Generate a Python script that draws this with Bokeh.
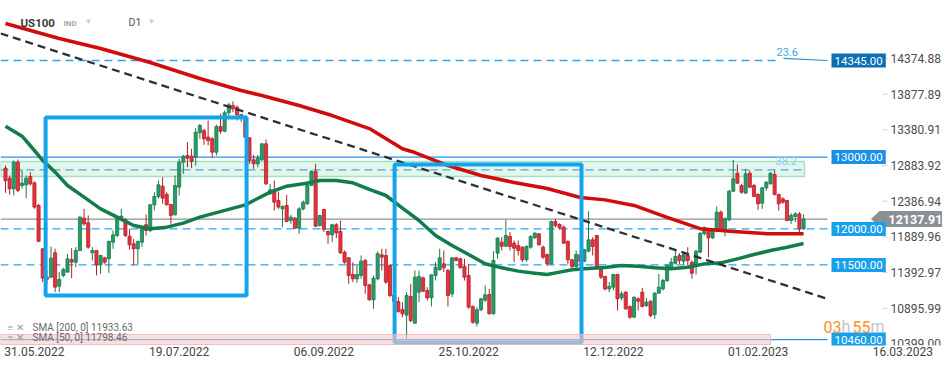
import pandas as pd
from bokeh.plotting import figure
from bokeh.models import Range1d, FixedTicker, Label, ColumnDataSource
from bokeh.core.properties import value
from bokeh.embed import file_html
from bokeh.resources import INLINE

# ---------------- data ----------------
start_date = "2022-05-31"
opens = [12846,12707,12559,12930,12605,12614,12730,12642,12327,11724,
         11330,11329,11668,11204,11352,11399,11575,11538,11700,12150,
         12085,11668,11700,11501,11598,11585,11816,11909,12141,12132,
         11900,11793,11724,11816,12058,11979,12336,12452,12596,12480,
         12341,12197,12582,12930,13022,13013,12999,13340,13370,13278,
         13255,13069,13426,13361,13617,13719,13695,13566,13556,13269,
         12962,12907,12962,13185,12489,12522,12396,12280,12327,12118,
         12150,12011,12280,12350,12605,12800,12048,12271,11965,11918,
         12058,11965,11677,11598,11366,11306,11352,11561,11222,11014,
         11306,11640,11630,11492,11080,10990,10879,10800,11060,10689,
         11120,11320,11144,11041,11352,11431,11515,11422,11097,11598,
         11584,11478,11352,10921,10689,10875,11009,11088,10819,11663,
         11816,11760,11895,11802,11770,11747,11570,11747,11877,11932,
         11747,11645,11515,12104,12062,12025,11826,11570,11478,11640,
         11552,11691,11849,11909,11459,11338,11166,11190,11366,11041,
         11120,10920,10772,11027,11120,10934,10995,10809,11106,11166,
         11282,11468,11524,11630,11552,11630,11538,11491,11677,11932,
         11978,11876,11978,12234,11988,12127,12526,12776,12605,12499,
         12776,12605,12480,12359,12572,12628,12758,12480,12419,12396,
         12118,12173,12210,12002]
highs = [12884,12744,12953,12967,12828,12744,12791,12661,12350,11733,
         11420,11756,11724,11399,11459,11654,11733,11747,12178,12280,
         12188,11747,11700,11640,11612,11840,11979,12178,12280,12150,
         12002,11863,11840,12025,12201,12350,12512,12675,12721,12512,
         12350,12744,12976,13032,13208,13115,13403,13463,13394,13510,
         13278,13450,13603,13649,13756,13774,13719,13603,13580,13278,
         13032,13032,13194,13245,12628,12675,12522,12327,12475,12197,
         12164,12304,12396,12642,12814,12907,12197,12280,11979,12072,
         12081,12118,11700,11607,11538,11492,11631,11584,11236,11352,
         11686,11724,11724,11515,11150,11051,10981,11120,11237,11422,
         11422,11338,11190,11366,11538,11724,11700,11445,11607,11607,
         11600,11584,11515,10935,10912,11041,11213,11167,11691,11886,
         11886,12127,11956,11840,11840,11756,11770,11910,11955,11942,
         11770,11655,12118,12141,12080,12048,11840,11584,11700,11700,
         11724,12248,11886,11918,11478,11350,11260,11375,11375,11134,
         11134,10934,11060,11050,11180,11041,11004,11120,11375,11305,
         11514,11598,11700,11663,11663,11746,11561,11709,11955,12034,
         12002,12002,12313,12257,12164,12544,12962,12897,12628,12837,
         12814,12628,12498,12582,12665,12790,12814,12489,12442,12405,
         12220,12234,12234,12201]
lows = [12503,12475,12466,12512,12559,12429,12605,12280,11816,11260,
        11230,11315,11120,11120,11329,11399,11315,11468,11691,12048,
        11724,11561,11352,11376,11515,11390,11724,11886,12118,11886,
        11714,11492,11515,11747,11909,11955,12257,12420,12350,12327,
        12072,12188,12466,12767,12860,12846,12883,13255,13171,13162,
        12990,13023,13324,13347,13570,13626,13510,13487,13255,12907,
        12837,12860,12948,12614,12475,12257,12280,12025,12095,12072,
        12002,11932,12257,12336,12596,12025,12034,11955,11793,11816,
        11872,11654,11515,11236,11260,11250,11306,11097,11004,10888,
        11283,11422,11236,11051,10950,10833,10772,10465,10703,10680,
        10981,11120,11004,10921,11283,11422,11399,10921,11051,11550,
        11450,11283,10889,10680,10643,10856,10981,10809,10809,11584,
        11700,11747,11700,11538,11631,11538,11545,11724,11860,11770,
        11584,11490,11506,12020,11990,11793,11515,11431,11460,11500,
        11538,11677,11631,11459,11306,11143,11120,11143,10865,11004,
        10874,10749,10763,10865,10911,10911,10772,10749,11097,11143,
        11259,11445,11505,11514,11505,11491,11306,11366,11663,11909,
        11607,11862,11955,11969,11895,12108,12512,12628,12489,12489,
        12572,12442,12266,12280,12535,12619,12466,12257,12350,12108,
        12071,12095,11955,11988]
closes = [12670,12559,12930,12535,12638,12707,12628,12304,11830,11315,
          11300,11594,11190,11297,11436,11585,11538,11700,12164,12071,
          11747,11700,11501,11631,11538,11826,11918,12141,12178,11909,
          11779,11724,11826,12011,11979,12336,12452,12614,12429,12336,
          12188,12605,12930,13013,12985,12939,13347,13440,13255,13232,
          13069,13426,13361,13617,13728,13672,13589,13593,13278,12953,
          12907,12986,13185,12628,12545,12373,12304,12313,12104,12164,
          12011,12280,12373,12614,12800,12039,12188,11993,11918,12058,
          11946,11668,11538,11352,11306,11366,11552,11213,11014,11315,
          11654,11607,11260,11074,10990,10851,10819,11074,10726,11329,
          11340,11134,11041,11361,11468,11598,11459,11074,11598,11561,
          11459,11329,10912,10703,10875,11028,11083,10819,11561,11872,
          11760,11909,11756,11733,11700,11570,11756,11895,11942,11779,
          11607,11515,12104,12048,12016,11802,11570,11478,11645,11550,
          11710,11849,11756,11468,11329,11166,11199,11366,11027,11097,
          10888,10772,11050,10995,10920,10981,10795,11106,11190,11282,
          11491,11538,11616,11561,11644,11561,11384,11691,11941,12016,
          11876,11988,12234,11978,12141,12526,12698,12637,12512,12767,
          12582,12452,12350,12572,12651,12776,12480,12350,12373,12118,
          12187,12210,12002,12137.91]

sma200_bar = [0, 13, 23, 35, 47, 57, 62, 71, 79, 88, 96, 99, 107, 115, 123, 131, 139, 145, 152, 160, 168, 176, 184, 193]
sma200_val = [14860, 14651, 14512, 14317, 14094, 13927, 13858, 13718, 13579, 13398, 13116, 13064, 12883,
              12744, 12647, 12563, 12438, 12405, 12327, 12162, 12004, 11965, 11935, 11933.63]
sma50_bar = [0, 4, 7, 9, 12, 15, 19, 23, 27, 31, 35, 39, 43, 47, 58, 64, 68, 72, 76, 80, 84, 88, 92, 96, 100,
             104, 108, 112, 116, 120, 124, 128, 131, 134, 137, 140, 145, 149, 153, 157, 161, 165, 169, 173,
             177, 181, 185, 189, 193]
sma50_val = [13431, 13292, 13092, 12953, 12791, 12605, 12443, 12280, 12164, 12048, 12002, 12025, 12081, 12164,
             12336, 12512, 12596, 12628, 12675, 12675, 12642, 12550, 12466, 12290, 12118, 11909, 11770, 11645,
             11515, 11459, 11413, 11385, 11366, 11399, 11431, 11445, 11465, 11491, 11482, 11459, 11445, 11468,
             11514, 11528, 11584, 11644, 11700, 11746, 11798.46]

date_labels = ["31.05.2022", "19.07.2022", "06.09.2022", "25.10.2022", "12.12.2022", "01.02.2023", "16.03.2023"]
date_step = 35       # bars between time-axis labels
price_ticks = [14374.88, 13877.89, 13380.91, 12883.92, 12386.94, 11889.96, 11392.97, 10895.99, 10399.00]

levels_solid = [13000.0, 10460.0]
levels_dashed = [14345.0, 12000.0, 11500.0]
tag_levels = [14345.0, 13000.0, 12000.0, 11500.0, 10460.0]
fib_236 = 14345.0
fib_382 = 12823.0
last_price = 12137.91
zone_green = (12730.0, 12939.0)      # price band
zone_pink = (10392.0, 10531.0)
trend_pts = ([-1.2, 199.3], [14721.0, 11018.0])          # (bar, price) of the drawn trend line
box1 = (9.7, 58.3, 11074.0, 13552.0)                     # left bar, right bar, bottom, top
box2 = (94.1, 139.3, 10420.0, 12897.0)
sma200_last = 11933.63
sma50_last = 11798.46

# ---------------- layout helpers ----------------
K = 4.135            # px per bar
X0 = -5 / K
FW, FH = 945, 345
YPX = 13.92          # price per px
YMAX = 15180.2
YMIN = YMAX - FH * YPX
XEND = X0 + FW / K

def px2x(px):  # picture px -> bar coordinate
    return X0 + px / K

def py2y(py):  # picture px -> price
    return YMAX - py * YPX

FONT = "Roboto"

dates = pd.bdate_range(start_date, periods=len(opens))
idx = list(range(len(opens)))

p = figure(frame_width=FW, frame_height=FH, x_range=Range1d(X0, XEND), y_range=Range1d(YMIN, YMAX),
           y_axis_location=None, output_backend="svg", toolbar_location=None,
           min_border_left=0, min_border_top=0, min_border_right=0, min_border_bottom=0,
           background_fill_color="white", border_fill_color="white")
p.outline_line_color = None
p.grid.visible = False

# zones
p.quad(left=X0, right=193.2, bottom=zone_green[0], top=zone_green[1],
       fill_color="#e2f6ec", line_color="#a3e0c4", line_width=1.5)

# levels
line_end = px2x(827)
for lv in levels_solid:
    p.segment(x0=X0, y0=lv, x1=line_end, y1=lv, line_color="#2196f3", line_width=1.3)
for lv in levels_dashed:
    p.segment(x0=X0, y0=lv, x1=line_end if lv != fib_236 else px2x(780), y1=lv,
              line_color="#2aa5ee", line_width=1.3, line_dash="8 5")
p.segment(x0=px2x(783), y0=fib_236 + 30, x1=line_end, y1=fib_236, line_color="#2a8fd6", line_width=1.2)
p.segment(x0=X0, y0=fib_382, x1=193.2, y1=fib_382, line_color="#47a9e6", line_width=1.2, line_dash="8 5")
p.segment(x0=X0, y0=last_price, x1=line_end, y1=last_price, line_color="#8d9396", line_width=1.2)

# candles
src = ColumnDataSource(dict(
    x=idx, date=[d.strftime("%d.%m.%Y") for d in dates], o=opens, h=highs, l=lows, c=closes,
    top=[max(a, b) for a, b in zip(opens, closes)],
    bot=[min(a, b) for a, b in zip(opens, closes)],
    fill=["#2a9a68" if c >= o else "#e0353f" for o, c in zip(opens, closes)],
    edge=["#177a4c" if c >= o else "#b71c26" for o, c in zip(opens, closes)],
))
p.segment(x0="x", y0="h", x1="x", y1="l", line_color="edge", line_width=1, source=src)
p.vbar(x="x", width=0.75, top="top", bottom="bot", fill_color="fill", line_color="edge", line_width=0.8, source=src)

# moving averages and trend line
p.line(sma50_bar, sma50_val, line_color="#127c4a", line_width=3.5, line_join="round")
p.line(sma200_bar, sma200_val, line_color="#d20b0b", line_width=3.5, line_join="round")
p.line(trend_pts[0], trend_pts[1], line_color="#2c3136", line_width=2.3, line_dash="8 5")

# boxes
for b in (box1, box2):
    p.quad(left=b[0], right=b[1], bottom=b[2], top=b[3], fill_color=None, line_color="#14a4ec", line_width=4)

# pink band
p.quad(left=X0, right=185, bottom=zone_pink[0], top=zone_pink[1],
       fill_color="#f7c9c9", fill_alpha=0.6, line_color="#f2b0b0", line_alpha=0.8, line_width=1)

# price scale (drawn at the right inside the frame)
p.segment(x0=[px2x(882)] * len(price_ticks), y0=price_ticks, x1=[px2x(887)] * len(price_ticks), y1=price_ticks,
          line_color="#cfcfcf", line_width=1)
p.text(x=[px2x(890)] * len(price_ticks), y=price_ticks, text=["%.2f" % t for t in price_ticks],
       text_font=value(FONT), text_font_size="12px", text_color="#4d4d4d",
       text_align="left", text_baseline="middle")

# time axis (labels left-aligned on their bar: tick shifted by half a label width)
date_pos = [date_step * k + 7 for k in range(len(date_labels))]
xax = p.xaxis[0]
xax.ticker = FixedTicker(ticks=date_pos)
xax.major_label_overrides = {pos: lab for pos, lab in zip(date_pos, date_labels)}
xax.axis_line_color = None
xax.major_tick_in = 0
xax.major_tick_out = 0
xax.minor_tick_line_color = None
xax.major_label_standoff = 1
xax.major_label_text_font = FONT
xax.major_label_text_font_size = "12px"
xax.major_label_text_color = "#444444"

def lab(x, y, text, size="11px", color="#444", style="normal", align="left", **kw):
    p.add_layout(Label(x=x, y=y, text=text, text_font=FONT, text_font_size=size, text_color=color,
                       text_font_style=style, text_align=align, text_baseline="middle", **kw))

# price tags
tag_colors = ["#0b6fb3", "#1a8fe6", "#18a0ea", "#18a0ea", "#18a0ea"]
for lv, col in zip(tag_levels, tag_colors):
    lab(px2x(831), lv, "%.2f" % lv, size="11.5px", color="white", background_fill_color=col, padding=3)

# last-price tag (arrow shape)
tag_x = [px2x(871), px2x(879), px2x(941), px2x(941), px2x(879)]
tag_y = [last_price, py2y(211), py2y(211), py2y(226), py2y(226)]
p.patch(tag_x, tag_y, fill_color="#8a9195", line_color="#8a9195")
lab(px2x(888), last_price, "%.2f" % last_price, size="12.5px", color="white", style="bold")

# fib labels
lab(px2x(776), py2y(51), "23.6", size="11px", color="#3aa3e6")
lab(px2x(775), py2y(160), "38.2", size="11px", color="#8ccaf0")

# header
lab(px2x(20), py2y(22), "US100", size="11.5px", color="#3a3a3a", style="bold")
lab(px2x(63), py2y(23), "IND", size="8px", color="#a8a8a8", style="bold")
lab(px2x(84), py2y(21), "\u25BC", size="8px", color="#cccccc")
lab(px2x(128), py2y(22), "D1", size="10.5px", color="#555555")
lab(px2x(147), py2y(21), "\u25BC", size="8px", color="#cccccc")

# SMA legend
lab(px2x(7), py2y(327), "\u2261 \u2715", size="10px", color="#9a9a9a")
lab(px2x(32), py2y(327), "SMA [200,  0]  %.2f" % sma200_last, size="10px", color="#6a6a6a")
lab(px2x(7), py2y(337), "\u2261 \u2715", size="10px", color="#9a9a9a")
lab(px2x(32), py2y(337), "SMA [50,  0]  %.2f" % sma50_last, size="10px", color="#6a6a6a")

# countdown
lab(px2x(823), py2y(326), "03", size="16px", color="#f7931e")
lab(px2x(841), py2y(326), "h", size="16px", color="#c4c4c4")
lab(px2x(852), py2y(326), "55", size="16px", color="#f7931e")
lab(px2x(870), py2y(326), "m", size="16px", color="#c4c4c4")

open("out.html", "w").write(file_html(p, INLINE))
